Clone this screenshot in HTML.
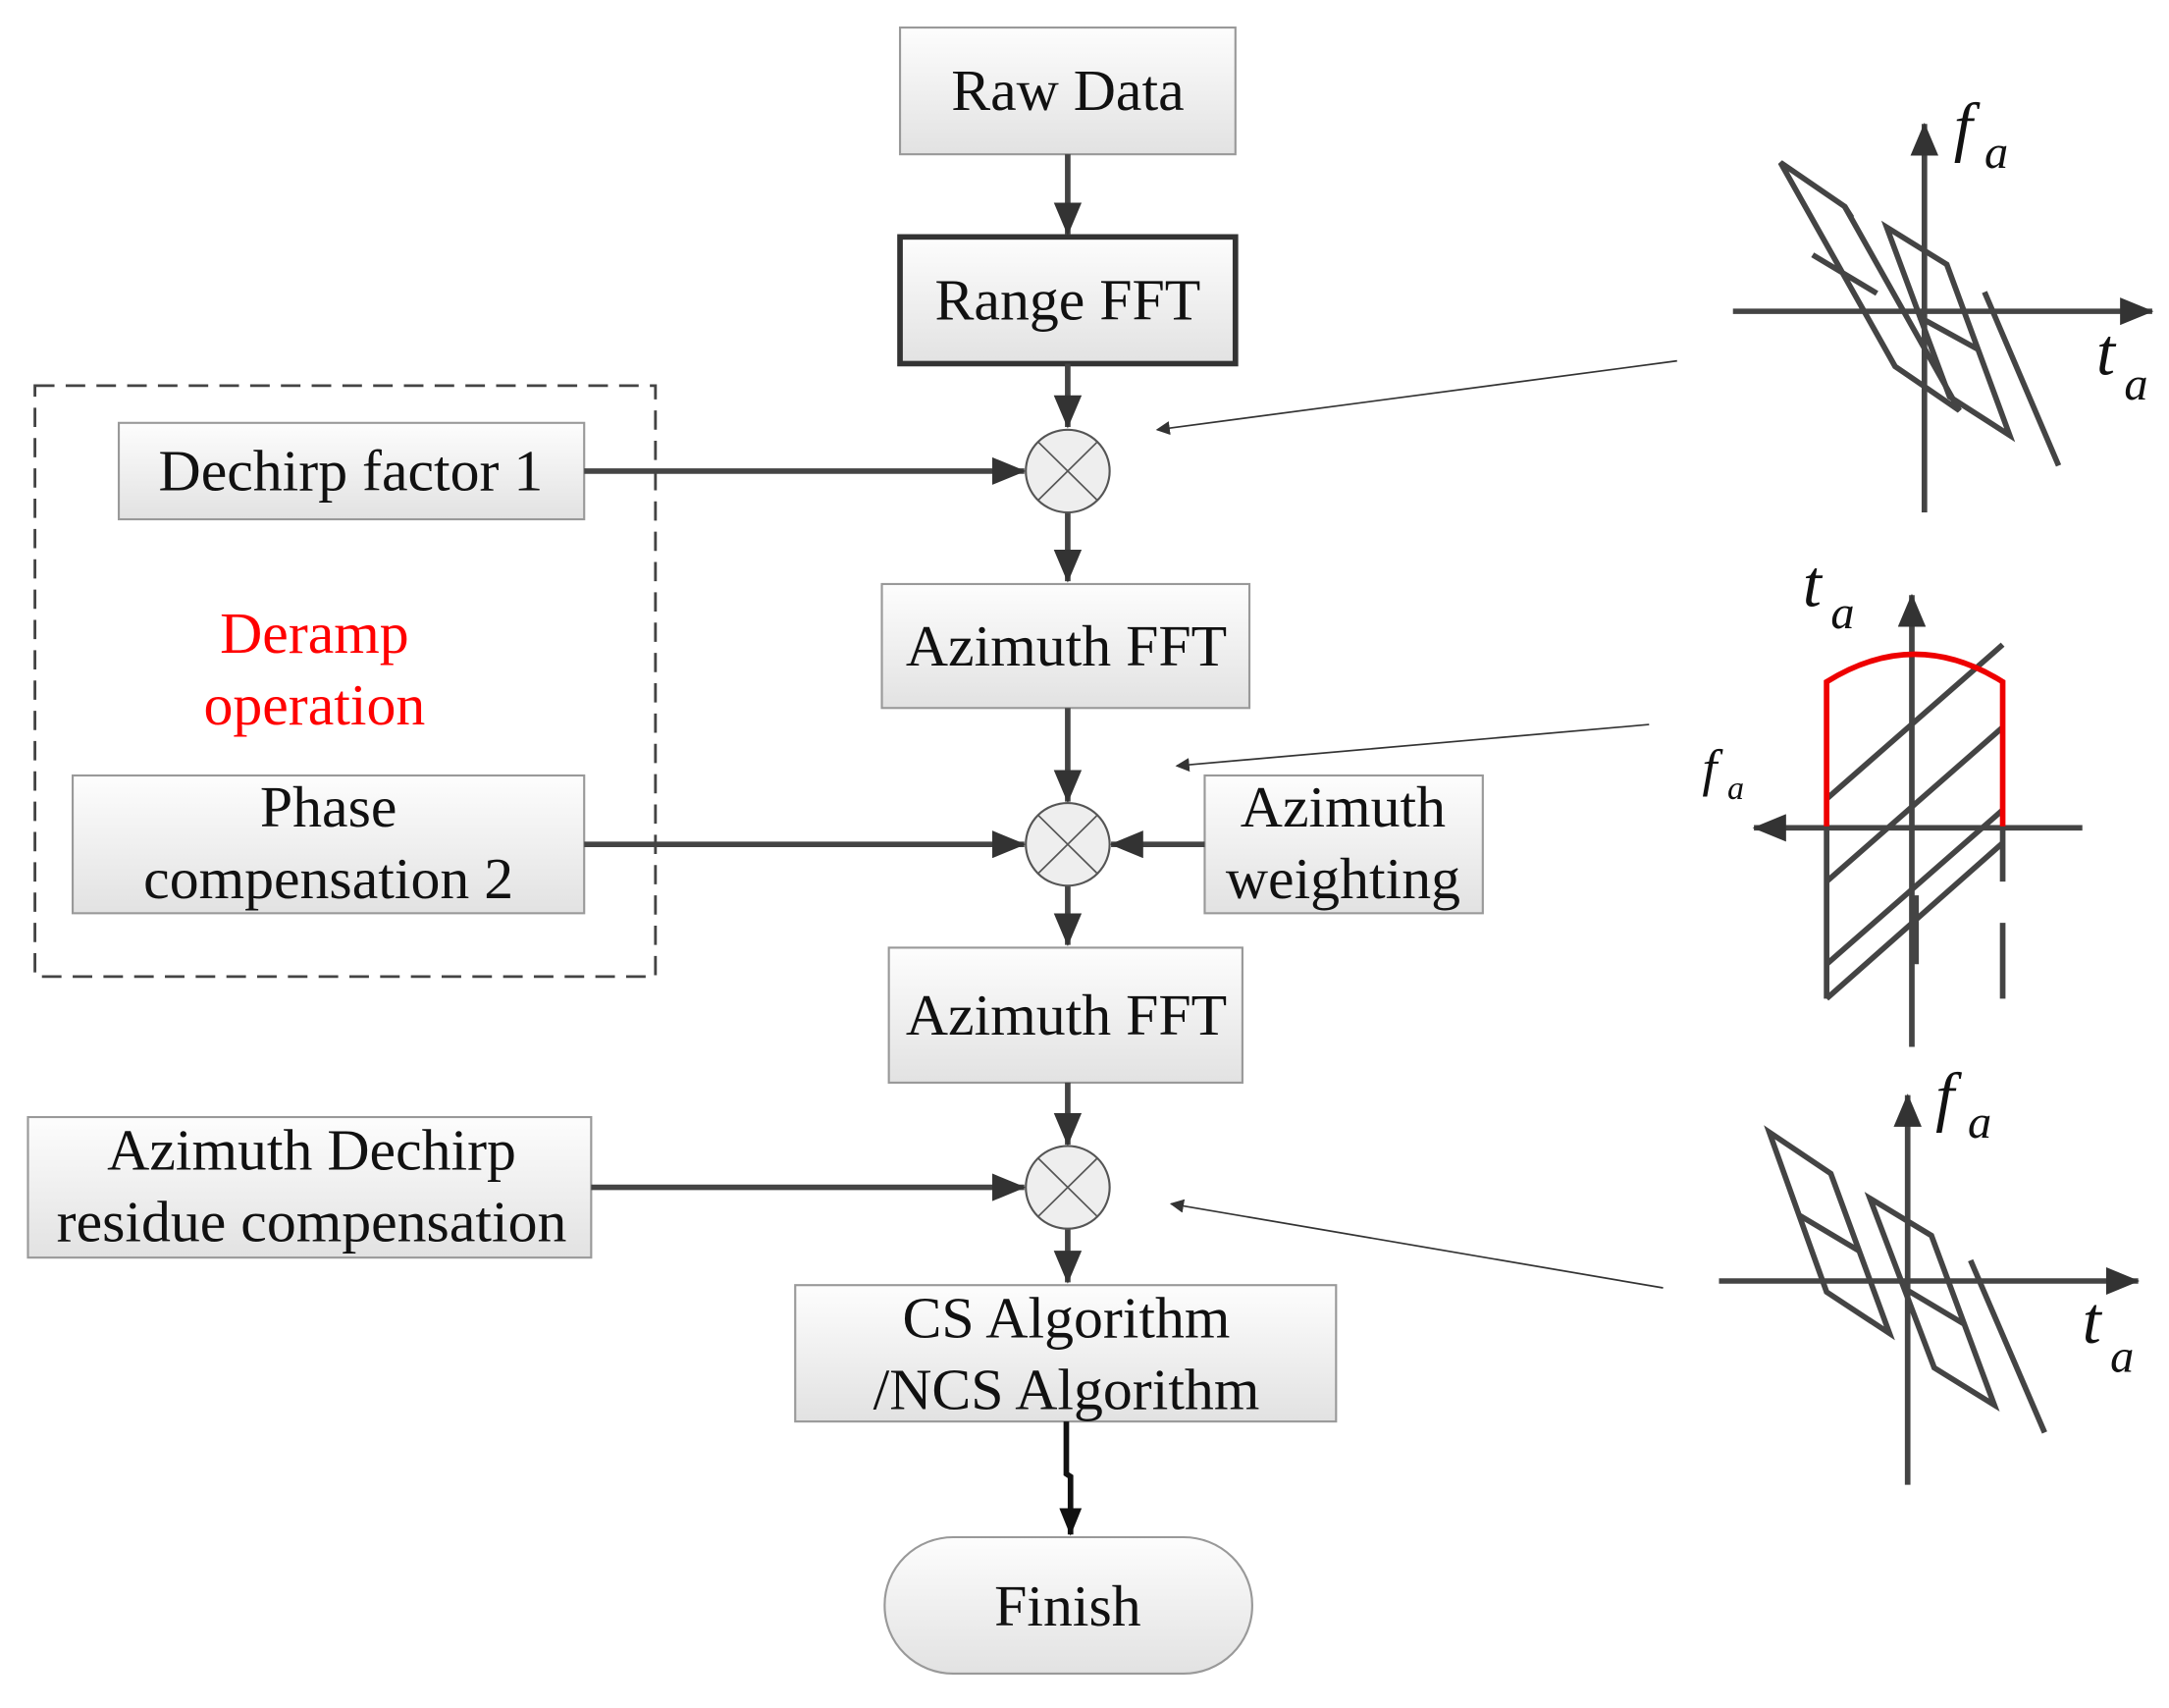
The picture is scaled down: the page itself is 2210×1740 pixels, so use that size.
<!DOCTYPE html>
<html><head><meta charset="utf-8"><style>
html,body{margin:0;padding:0;background:#fff;}
svg{display:block;}
text{font-family:"Liberation Serif",serif;fill:#111;}
</style></head><body>
<svg width="2210" height="1740" viewBox="0 0 1552 1240" preserveAspectRatio="none" xmlns="http://www.w3.org/2000/svg">
<defs>
<linearGradient id="g" x1="0" y1="0" x2="0" y2="1"><stop offset="0" stop-color="#fdfdfd"/><stop offset="1" stop-color="#e2e2e2"/></linearGradient>
<marker id="a" markerWidth="10" markerHeight="10" refX="9" refY="5" orient="auto" markerUnits="userSpaceOnUse" viewBox="0 0 10 10"><path d="M0,0 L10,5 L0,10z" fill="#333"/></marker>
<marker id="b" markerWidth="24" markerHeight="20" refX="23" refY="10" orient="auto" markerUnits="userSpaceOnUse" viewBox="0 0 24 20"><path d="M0,0 L24,10 L0,20z" fill="#333"/></marker>
<marker id="c" markerWidth="20" markerHeight="16" refX="19" refY="8" orient="auto" markerUnits="userSpaceOnUse" viewBox="0 0 20 16"><path d="M0,0 L20,8 L0,16z" fill="#111"/></marker>
</defs>
<g stroke="#999" stroke-width="1.5" fill="url(#g)">
<rect x="644" y="20" width="240" height="92"/>
<rect x="85" y="307" width="333" height="70"/>
<rect x="631" y="424" width="263" height="90"/>
<rect x="52" y="563" width="366" height="100"/>
<rect x="862" y="563" width="199" height="100"/>
<rect x="636" y="688" width="253" height="98"/>
<rect x="20" y="811" width="403" height="102"/>
<rect x="569" y="933" width="387" height="99"/>
<rect x="633" y="1116" width="263" height="99" rx="49"/>
</g>
<rect x="644" y="172" width="240" height="92" fill="url(#g)" stroke="#333" stroke-width="4"/>
<rect x="25" y="280" width="444" height="429" fill="none" stroke="#444" stroke-width="2" stroke-dasharray="14,8"/>
<g stroke="#444" stroke-width="4" fill="none">
<line x1="764" y1="112" x2="764" y2="170" marker-end="url(#b)"/>
<line x1="764" y1="264" x2="764" y2="310" marker-end="url(#b)"/>
<line x1="418" y1="342" x2="733" y2="342" marker-end="url(#b)"/>
<line x1="764" y1="372" x2="764" y2="422" marker-end="url(#b)"/>
<line x1="764" y1="514" x2="764" y2="582" marker-end="url(#b)"/>
<line x1="418" y1="613" x2="733" y2="613" marker-end="url(#b)"/>
<line x1="862" y1="613" x2="795" y2="613" marker-end="url(#b)"/>
<line x1="764" y1="643" x2="764" y2="686" marker-end="url(#b)"/>
<line x1="764" y1="786" x2="764" y2="831" marker-end="url(#b)"/>
<line x1="423" y1="862" x2="733" y2="862" marker-end="url(#b)"/>
<line x1="764" y1="892" x2="764" y2="931" marker-end="url(#b)"/>
</g>
<path d="M763,1032 L763,1070 L766,1072 L766,1114" stroke="#111" stroke-width="4" fill="none" marker-end="url(#c)"/>
<g stroke="#555" stroke-width="1.5" fill="#eee">
<circle cx="764" cy="342" r="30"/><circle cx="764" cy="613" r="30"/><circle cx="764" cy="862" r="30"/>
</g>
<g stroke="#555" stroke-width="1.2">
<path d="M743,321 L785,363 M785,321 L743,363"/>
<path d="M743,592 L785,634 M785,592 L743,634"/>
<path d="M743,841 L785,883 M785,841 L743,883"/>
</g>
<g stroke="#333" stroke-width="1.2" fill="none">
<line x1="1200" y1="262" x2="828" y2="312" marker-end="url(#a)"/>
<line x1="1180" y1="526" x2="842" y2="556" marker-end="url(#a)"/>
<line x1="1190" y1="935" x2="838" y2="874" marker-end="url(#a)"/>
</g>
<g font-size="42" text-anchor="middle">
<text x="764" y="80">Raw Data</text>
<text x="764" y="232">Range FFT</text>
<text x="251" y="356">Dechirp factor 1</text>
<text x="225" y="474" style="fill:#f00">Deramp</text>
<text x="225" y="526" style="fill:#f00">operation</text>
<text x="763" y="483">Azimuth FFT</text>
<text x="235" y="600">Phase</text>
<text x="235" y="652">compensation 2</text>
<text x="961" y="600">Azimuth</text>
<text x="961" y="652">weighting</text>
<text x="763" y="751">Azimuth FFT</text>
<text x="223" y="849">Azimuth Dechirp</text>
<text x="223" y="901">residue compensation</text>
<text x="763" y="971">CS Algorithm</text>
<text x="763" y="1023">/NCS Algorithm</text>
<text x="764" y="1180">Finish</text>
</g>
<g stroke="#444" stroke-width="4" fill="none">
<line x1="1240" y1="226" x2="1540" y2="226" marker-end="url(#b)"/>
<line x1="1377" y1="372" x2="1377" y2="90" marker-end="url(#b)"/>
<path d="M1274,118 L1320,150 L1402,298 L1356,266 Z M1297,185 L1343,213"/>
<path d="M1350,165 L1393,192 L1438,316 L1395,288 Z M1373,230 L1416,254"/>
<path d="M1420,212 L1473,338 M1320,150 L1325,158"/>
</g>
<g stroke="#444" stroke-width="4" fill="none">
<line x1="1368" y1="760" x2="1368" y2="432" marker-end="url(#b)"/>
<line x1="1490" y1="601" x2="1255" y2="601" marker-end="url(#b)"/>
<path d="M1307,580 L1433,468 M1307,640 L1433,528 M1307,700 L1433,588 M1307,725 L1433,612"/>
<path d="M1307,601 L1307,725 M1433,601 L1433,640 M1433,670 L1433,725 M1371,650 L1371,700"/>
</g>
<path d="M1307,600 L1307,495 Q1370,455 1433,495 L1433,600" stroke="#e00" stroke-width="4" fill="none"/>
<g stroke="#444" stroke-width="4" fill="none">
<line x1="1230" y1="930" x2="1530" y2="930" marker-end="url(#b)"/>
<line x1="1365" y1="1078" x2="1365" y2="795" marker-end="url(#b)"/>
<path d="M1266,822 L1310,852 L1352,968 L1307,938 Z M1287,882 L1330,908"/>
<path d="M1338,870 L1382,897 L1427,1020 L1384,993 Z M1362,935 L1405,961"/>
<path d="M1410,915 L1463,1040"/>
</g>
<g font-size="48" font-style="italic">
<text x="1398" y="108">f</text><text x="1420" y="122" font-size="34">a</text>
<text x="1500" y="272">t</text><text x="1520" y="290" font-size="34">a</text>
<text x="1290" y="440">t</text><text x="1310" y="456" font-size="34">a</text>
<text x="1385" y="812">f</text><text x="1408" y="826" font-size="34">a</text>
<text x="1490" y="975">t</text><text x="1510" y="996" font-size="34">a</text>
</g>
<g font-size="38" font-style="italic">
<text x="1218" y="570">f</text><text x="1236" y="580" font-size="24">a</text>
</g>
</svg>
</body></html>
